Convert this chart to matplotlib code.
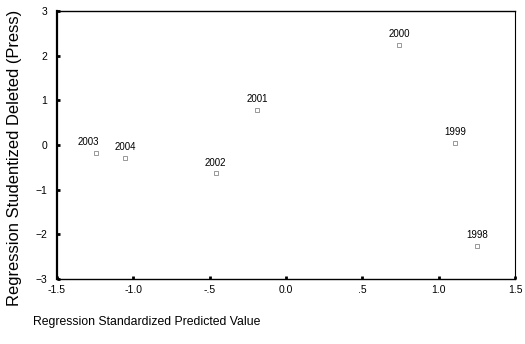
import matplotlib
matplotlib.use("Agg")
import matplotlib.pyplot as plt

# values
years = ['2003', '2004', '2002', '2001', '2000', '1999', '1998']
predicted = [-1.245, -1.055, -0.46, -0.19, 0.74, 1.11, 1.25]
deleted = [-0.18, -0.29, -0.63, 0.79, 2.24, 0.05, -2.26]
label_shift = [-0.05, 0.0, 0.0, 0.0, 0.0, 0.0, 0.0]

x_ticks = [-1.5, -1.0, -0.5, 0.0, 0.5, 1.0, 1.5]
x_tick_labels = ['-1.5', '-1.0', '-.5', '0.0', '.5', '1.0', '1.5']
y_ticks = [-3, -2, -1, 0, 1, 2, 3]


def main() -> None:
    plt.rcParams['font.family'] = ['Liberation Sans', 'DejaVu Sans']

    fig = plt.figure(figsize=(5.25, 3.44), dpi=100)
    ax = fig.add_axes([57 / 525, 1 - 279 / 344, (515 - 57) / 525, (279 - 11) / 344])

    ax.plot(predicted, deleted, linestyle='none', marker='s', markersize=2.5,
            markerfacecolor='none', markeredgecolor='#888888', markeredgewidth=0.6)

    for name, px, py, dx in zip(years, predicted, deleted, label_shift):
        ax.annotate(name, (px + dx, py), xytext=(0, 4), textcoords='offset points',
                    ha='center', va='bottom', fontsize=7)

    ax.set_xlim(-1.5, 1.5)
    ax.set_ylim(-3, 3)
    ax.set_xticks(x_ticks)
    ax.set_xticklabels(x_tick_labels)
    ax.set_yticks(y_ticks)
    ax.tick_params(direction='in', length=2, width=2, labelsize=7.5)
    ax.tick_params(axis='x', pad=4)
    ax.tick_params(axis='y', pad=7)

    ax.spines['left'].set_linewidth(1.6)
    ax.spines['bottom'].set_linewidth(1.0)
    ax.spines['top'].set_linewidth(1.0)
    ax.spines['right'].set_linewidth(0.8)
    ax.spines['right'].set_linestyle((0, (4, 1)))

    fig.text(33 / 525, 1 - 322 / 344, 'Regression Standardized Predicted Value',
             ha='left', va='center', fontsize=8.8)
    fig.text(15 / 525, 1 - 306 / 344, 'Regression Studentized Deleted (Press)',
             rotation=90, ha='center', va='bottom', fontsize=11.9)

    fig.savefig('out.png', dpi=100)


if __name__ == '__main__':
    main()
